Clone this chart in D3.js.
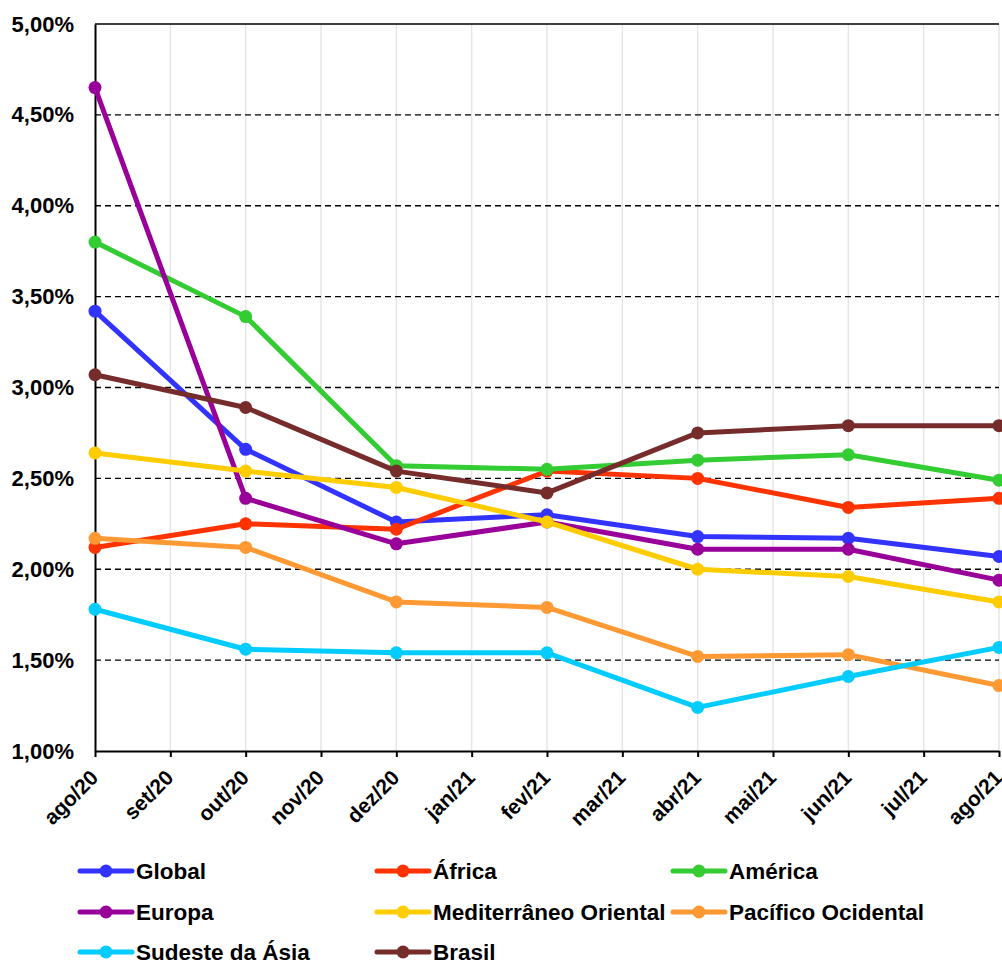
<!DOCTYPE html>
<html><head><meta charset="utf-8">
<script src="https://cdn.jsdelivr.net/npm/d3@7"></script>
<style>body{margin:0;background:#fff}svg{display:block}text{font-family:"Liberation Sans",Arial,sans-serif;font-weight:bold}</style>
</head><body><svg id="c" width="1002" height="964"></svg>
<script>
const months = ["ago/20","set/20","out/20","nov/20","dez/20","jan/21","fev/21","mar/21","abr/21","mai/21","jun/21","jul/21","ago/21"];
const dataMonths = ["ago/20","out/20","dez/20","fev/21","abr/21","jun/21","ago/21"];
const yTicks = [1.0,1.5,2.0,2.5,3.0,3.5,4.0,4.5,5.0];
const seriesNames = ["Global","África","América","Europa","Mediterrâneo Oriental","Pacífico Ocidental","Sudeste da Ásia","Brasil"];
const global_ = [3.42,2.66,2.26,2.30,2.18,2.17,2.07];
const africa = [2.12,2.25,2.22,2.54,2.50,2.34,2.39];
const america = [3.80,3.39,2.57,2.55,2.60,2.63,2.49];
const europa = [4.65,2.39,2.14,2.26,2.11,2.11,1.94];
const mediterraneo = [2.64,2.54,2.45,2.26,2.00,1.96,1.82];
const pacifico = [2.17,2.12,1.82,1.79,1.52,1.53,1.36];
const sudeste = [1.78,1.56,1.54,1.54,1.24,1.41,1.57];
const brasil = [3.07,2.89,2.54,2.42,2.75,2.79,2.79];
const seriesValues = [global_,africa,america,europa,mediterraneo,pacifico,sudeste,brasil];
const colors = ["#3333FF","#FF3300","#33CC33","#990099","#FFCC00","#FF9933","#00CCFF","#772C2C"];

const svg = d3.select("#c");
const L=95, R=999, T=24, B=751;
const x = d3.scalePoint().domain(months).range([L,R]);
const y = d3.scaleLinear().domain([1,5]).range([B,T]);
const fmt = v => d3.format(".2f")(v).replace(".",",")+"%";

// vertical grid
svg.append("g").selectAll("line").data(months.slice(1)).join("line")
  .attr("x1",d=>x(d)).attr("x2",d=>x(d)).attr("y1",T).attr("y2",B)
  .attr("stroke","#e6e6e6").attr("stroke-width",1.5);
// horizontal dashed grid
svg.append("g").selectAll("line").data(yTicks.slice(1,-1)).join("line")
  .attr("x1",L).attr("x2",R).attr("y1",d=>y(d)).attr("y2",d=>y(d))
  .attr("stroke","#000").attr("stroke-width",1.3).attr("stroke-dasharray","6,4");
svg.append("line").attr("x1",L).attr("x2",R).attr("y1",y(5)).attr("y2",y(5)).attr("stroke","#000").attr("stroke-width",1.5);

// y axis
const ya = svg.append("g").attr("transform",`translate(${L},0)`)
  .call(d3.axisLeft(y).tickValues(yTicks).tickFormat(fmt).tickSize(0).tickPadding(21));
ya.select(".domain").attr("stroke","#000").attr("stroke-width",2);
ya.selectAll("text").attr("font-size",22).attr("fill","#000").attr("font-family","Liberation Sans, Arial, sans-serif").attr("font-weight","bold");

// x axis
const xa = svg.append("g").attr("transform",`translate(0,${B})`)
  .call(d3.axisBottom(x).tickSize(6).tickSizeOuter(0));
xa.select(".domain").attr("stroke","#000").attr("stroke-width",2);
xa.selectAll(".tick line").attr("stroke","#000").attr("stroke-width",2);
xa.selectAll("text").attr("font-size",21).attr("fill","#000")
  .attr("font-family","Liberation Sans, Arial, sans-serif").attr("font-weight","bold")
  .attr("text-anchor","end").attr("dy",0).attr("y",0)
  .attr("transform","translate(4,28) rotate(-45)");

// lines
const line = d3.line().x(d=>x(d.m)).y(d=>y(d.v));
seriesNames.forEach((name,i)=>{
  const pts = dataMonths.map((m,j)=>({m, v: seriesValues[i][j]}));
  const g = svg.append("g");
  g.append("path").datum(pts).attr("d",line).attr("fill","none")
    .attr("stroke",colors[i]).attr("stroke-width",5).attr("stroke-linejoin","round");
  g.selectAll("circle").data(pts).join("circle")
    .attr("cx",d=>x(d.m)).attr("cy",d=>y(d.v)).attr("r",6.5).attr("fill",colors[i]);
});

// legend
const colX = [80,377,673];
const rowY = [871,912,952];
seriesNames.forEach((name,i)=>{
  const cx = colX[i%3], cy = rowY[Math.floor(i/3)];
  const g = svg.append("g").attr("transform",`translate(${cx},${cy})`);
  g.append("line").attr("x1",0).attr("x2",52).attr("y1",0).attr("y2",0)
    .attr("stroke",colors[i]).attr("stroke-width",5).attr("stroke-linecap","round");
  g.append("circle").attr("cx",26).attr("r",6.5).attr("fill",colors[i]);
  g.append("text").attr("x",56).attr("y",8).attr("font-size",22.5).attr("fill","#000").text(name);
});
</script></body></html>
